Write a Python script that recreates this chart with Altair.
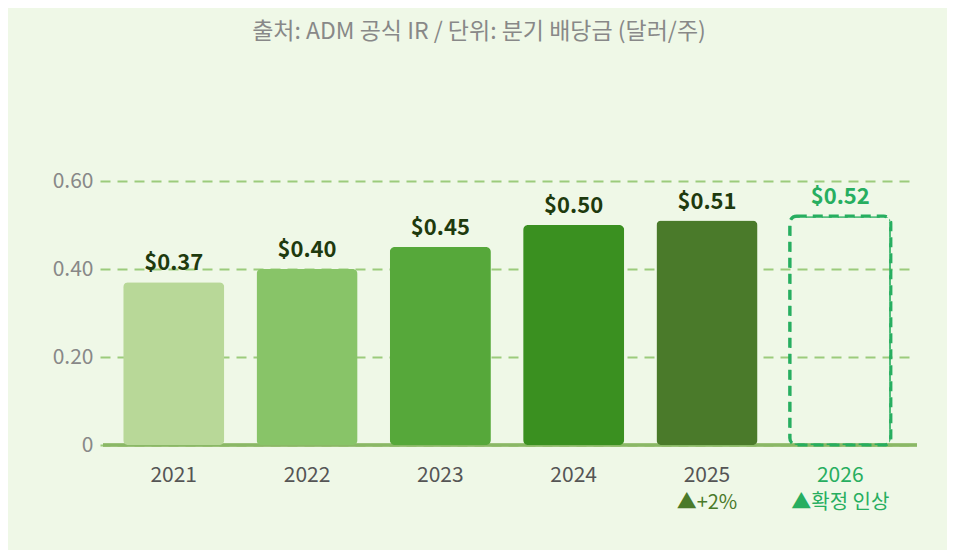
import altair as alt
import pandas as pd

years = ["2021", "2022", "2023", "2024", "2025", "2026"]
dividends = [0.37, 0.40, 0.45, 0.50, 0.51, 0.52]
bar_colors = ["#b8d898", "#88c468", "#56a83a", "#3a9020", "#4a7a2a", "#27ae60"]
status = ["actual", "actual", "actual", "actual", "actual", "planned"]
value_labels = ["$0.37", "$0.40", "$0.45", "$0.50", "$0.51", "$0.52"]
sub_labels = ["", "", "", "", "▲+2%", "▲확정 인상"]
sub_colors = ["#4a7a2a", "#4a7a2a", "#4a7a2a", "#4a7a2a", "#4a7a2a", "#27ae60"]
y_ticks = [0, 0.2, 0.4, 0.6]

FONT = "Noto Sans CJK KR"
W, H = 814, 264

df = pd.DataFrame({
    "year": years,
    "value": dividends,
    "status": status,
    "label": value_labels,
    "sub": sub_labels,
})

x_scale = alt.Scale(paddingInner=0.242, paddingOuter=0.174, range=[-3, W - 3])

x_enc = alt.X(
    "year:N",
    sort=years,
    scale=x_scale,
    axis=alt.Axis(
        title=None,
        labelAngle=0,
        labelFontSize=21,
        labelFont=FONT,
        labelPadding=19,
        labelColor={"condition": {"test": "datum.value == '2026'", "value": "#27ae60"}, "value": "#555555"},
        ticks=False,
        domain=False,
        grid=False,
    ),
)

y_scale = alt.Scale(domain=[0, 0.6], nice=False)
y_enc = alt.Y(
    "value:Q",
    scale=y_scale,
    axis=alt.Axis(
        title=None,
        values=y_ticks,
        labelExpr="datum.value == 0 ? '0' : format(datum.value, '.2f')",
        labelFontSize=21,
        labelFont=FONT,
        labelColor="#888888",
        labelPadding=10,
        ticks=False,
        domain=False,
        grid=True,
        gridColor="#9ccb7c",
        gridWidth=2,
        gridDash=[10, 7],
    ),
)

base = alt.Chart(df)

actual = base.transform_filter("datum.status == 'actual'").mark_bar(
    cornerRadius=5
).encode(
    x=x_enc,
    y=y_enc,
    color=alt.Color("year:N", scale=alt.Scale(domain=years, range=bar_colors), legend=None),
)

baseline = base.mark_rule(color="#8ab866", strokeWidth=2.5).encode(
    y=alt.value(H),
    x=alt.value(0),
    x2=alt.value(W),
)

planned = base.transform_filter("datum.status == 'planned'").mark_bar(
    fill="transparent",
    fillOpacity=0,
    stroke="#27ae60",
    strokeWidth=3.2,
    strokeDash=[10, 6],
    cornerRadius=7,
).encode(
    x=alt.X("year:N", sort=years),
    y=alt.Y("value:Q", scale=y_scale),
)

labels = base.mark_text(
    font=FONT, fontSize=22, fontWeight="bold", baseline="alphabetic", dy=-12
).encode(
    x=alt.X("year:N", sort=years),
    y=alt.Y("value:Q", scale=y_scale),
    text="label:N",
    color=alt.condition("datum.status == 'planned'", alt.value("#27ae60"), alt.value("#1e3a0e")),
)

subs = base.mark_text(
    font=FONT, fontSize=20, baseline="middle"
).encode(
    x=alt.X("year:N", sort=years),
    y=alt.value(H + 58),
    text="sub:N",
    color=alt.Color("year:N", scale=alt.Scale(domain=years, range=sub_colors), legend=None),
)

chart = alt.layer(baseline, actual, planned, labels, subs).resolve_scale(color="independent").properties(
    width=W,
    height=H,
    padding={"left": 95, "top": 173, "right": 30, "bottom": 105},
    autosize="none",
    background="#eff8e7",
    title=alt.Title(
        "출처: ADM 공식 IR / 단위: 분기 배당금 (달러/주)",
        font=FONT,
        fontSize=23,
        fontWeight="normal",
        color="#888888",
        anchor="middle",
        offset=126,
        dx=-31,
    ),
).configure_view(stroke=None)

chart.save("out.html", embed_options={"renderer": "svg", "actions": False})
